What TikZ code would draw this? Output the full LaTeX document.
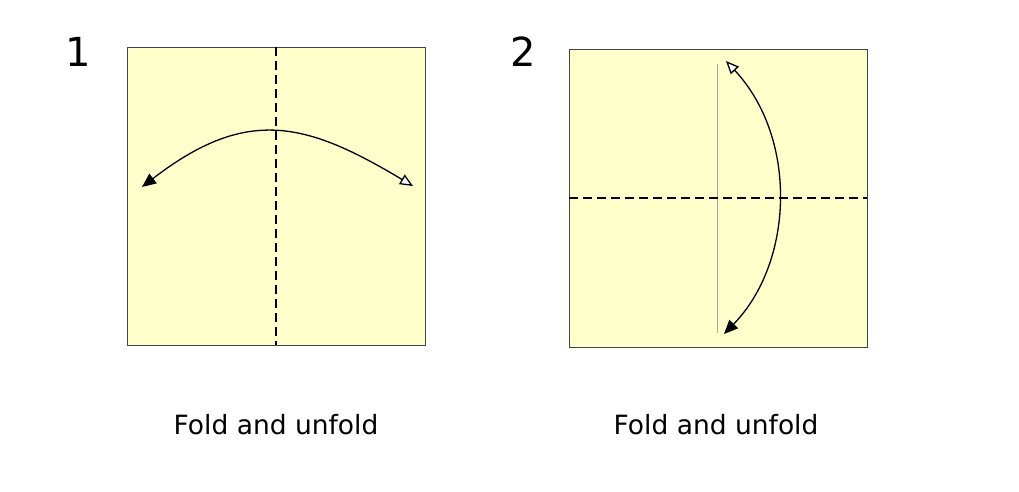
\documentclass[tikz,border=0pt]{standalone}
\usepackage{fontspec}
\setmainfont{DejaVu Sans}
\usetikzlibrary{arrows.meta}
\definecolor{paper}{HTML}{FFFFCC}
\definecolor{edge}{HTML}{444444}
\tikzset{
  sheet/.style={fill=paper,draw=edge,line width=1pt},
  foldline/.style={line width=1.3pt,dash pattern=on 9pt off 5pt},
  crease/.style={draw=gray!70,line width=0.8pt},
  foldarrow/.style={line width=1.3pt,
    {Triangle[open,length=13pt,width=11pt,fill=white]}-{Triangle[length=14pt,width=12pt]}},
  steplabel/.style={anchor=base,font=\fontsize{40}{40}\selectfont},
  caption/.style={anchor=base,font=\fontsize{26.5}{30}\selectfont}
}
\begin{document}
\begin{tikzpicture}[x=1pt,y=-1pt]
\useasboundingbox (0,0) rectangle (1019,491);
\draw[sheet] (127,47) rectangle (425,345);
\draw[foldline] (276,47) -- (276,345);
\coordinate (a1) at (413,186);
\coordinate (b1) at (142,187);
\draw[foldarrow] (a1) .. controls (306,122) and (247,106) .. (b1);
\node[steplabel] (n1) at (78,66) {1};
\node[caption] (t1) at (276,434) {Fold and unfold};
\draw[sheet] (569,49) rectangle (867,347);
\draw[crease] (717,64) -- (717,333);
\draw[foldline] (569,198) -- (867,198);
\coordinate (a2) at (726,61);
\coordinate (b2) at (724,334);
\draw[foldarrow] (a2) .. controls (798,138) and (794,262) .. (b2);
\node[steplabel] (n2) at (523,66) {2};
\node[caption] (t2) at (716,434) {Fold and unfold};
\end{tikzpicture}
\end{document}
